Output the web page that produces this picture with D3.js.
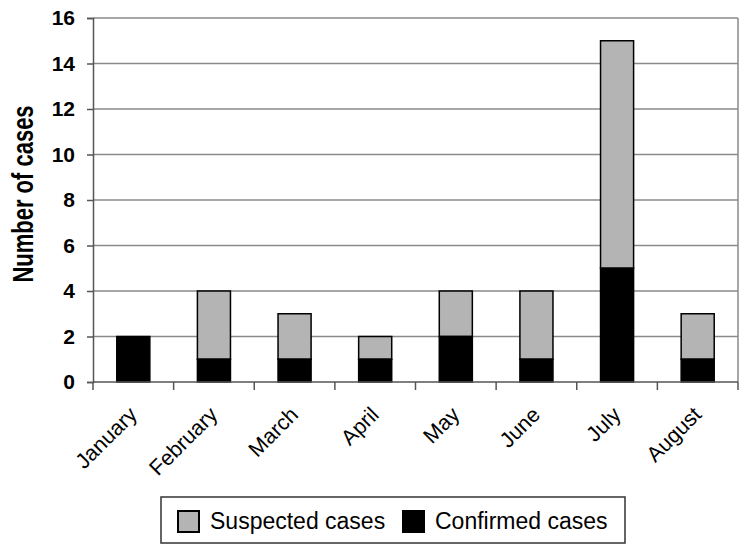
<!DOCTYPE html>
<html>
<head>
<meta charset="utf-8">
<script src="https://cdn.jsdelivr.net/npm/d3@7"></script>
<style>
  body { margin: 0; background: #fff; }
  text { font-family: "Liberation Sans", Arial, sans-serif; }
</style>
</head>
<body>
<div id="chart"></div>
<script>
// Chart data
var months = ["January", "February", "March", "April", "May", "June", "July", "August"];
var confirmed = [2, 1, 1, 1, 2, 1, 5, 1];
var suspected = [0, 3, 2, 1, 2, 3, 10, 2];
var yTicks = [0, 2, 4, 6, 8, 10, 12, 14, 16];

var svgWidth = 749;
var svgHeight = 553;

var margin = { top: 18, right: 11, bottom: 171, left: 93 };
var width = svgWidth - margin.left - margin.right;
var height = svgHeight - margin.top - margin.bottom;

var svg = d3.select("#chart")
  .append("svg")
  .attr("width", svgWidth)
  .attr("height", svgHeight);

var chartGroup = svg.append("g")
  .attr("transform", `translate(${margin.left}, ${margin.top})`);

// Scales
var xScale = d3.scaleBand()
  .domain(months)
  .range([0, width])
  .paddingInner(0.59)
  .paddingOuter(0.295);

var xBand = d3.scaleBand().domain(months).range([0, width]);

var yScale = d3.scaleLinear()
  .domain([0, 16])
  .range([height, 0]);

// Gridlines
chartGroup.selectAll(".grid")
  .data(yTicks.slice(1))
  .enter()
  .append("line")
  .attr("x1", 0)
  .attr("x2", width)
  .attr("y1", d => yScale(d))
  .attr("y2", d => yScale(d))
  .attr("stroke", "#8a8a8a")
  .attr("stroke-width", 1.5);

// Plot frame right side
chartGroup.append("line")
  .attr("x1", width).attr("x2", width)
  .attr("y1", 0).attr("y2", height)
  .attr("stroke", "#8a8a8a")
  .attr("stroke-width", 1.5);

// Stacked data
var stacked = months.map(function(m, i) {
  return { month: m, confirmed: confirmed[i], suspected: suspected[i] };
});

// Suspected (top) segments
chartGroup.selectAll(".suspected")
  .data(stacked.filter(d => d.suspected > 0))
  .enter()
  .append("rect")
  .attr("x", d => xScale(d.month))
  .attr("width", xScale.bandwidth())
  .attr("y", d => yScale(d.confirmed + d.suspected))
  .attr("height", d => yScale(d.confirmed) - yScale(d.confirmed + d.suspected))
  .attr("fill", "#b4b4b4")
  .attr("stroke", "#000")
  .attr("stroke-width", 1.5);

// Confirmed (bottom) segments
chartGroup.selectAll(".confirmed")
  .data(stacked)
  .enter()
  .append("rect")
  .attr("x", d => xScale(d.month))
  .attr("width", xScale.bandwidth())
  .attr("y", d => yScale(d.confirmed))
  .attr("height", d => yScale(0) - yScale(d.confirmed))
  .attr("fill", "#000")
  .attr("stroke", "#000")
  .attr("stroke-width", 1.5);

// Y axis
var leftAxis = d3.axisLeft(yScale)
  .tickValues(yTicks)
  .tickSize(6)
  .tickPadding(12);

var yAxis = chartGroup.append("g")
  .call(leftAxis);
yAxis.select(".domain").attr("stroke", "#555").attr("stroke-width", 1.5);
yAxis.selectAll(".tick line").attr("stroke", "#555").attr("stroke-width", 1.5);
yAxis.selectAll(".tick text")
  .attr("font-size", "21px")
  .attr("font-weight", "bold")
  .attr("fill", "#000")
  .style("font-family", "Liberation Sans, Arial, sans-serif");

// X axis (ticks at category boundaries)
var xAxis = chartGroup.append("g")
  .attr("transform", `translate(0, ${height})`);

xAxis.append("line")
  .attr("x1", 0).attr("x2", width)
  .attr("stroke", "#555")
  .attr("stroke-width", 1.5);

xAxis.selectAll(".xtick")
  .data(months.concat(["end"]))
  .enter()
  .append("line")
  .attr("x1", (d, i) => i * xBand.bandwidth())
  .attr("x2", (d, i) => i * xBand.bandwidth())
  .attr("y1", 0)
  .attr("y2", 8)
  .attr("stroke", "#555")
  .attr("stroke-width", 1.5);

xAxis.selectAll(".xlabel")
  .data(months)
  .enter()
  .append("text")
  .attr("transform", d => `translate(${xBand(d) + xBand.bandwidth() / 2 + 5}, 34) rotate(-45)`)
  .attr("text-anchor", "end")
  .attr("font-size", "21.5px")
  .attr("fill", "#000")
  .text(d => d);

// Y axis title
svg.append("text")
  .attr("transform", `translate(33, ${margin.top + 176}) rotate(-90) scale(1, 1.3)`)
  .attr("text-anchor", "middle")
  .attr("font-size", "22px")
  .attr("font-weight", "bold")
  .text("Number of cases");

// Legend
var legend = svg.append("g")
  .attr("transform", "translate(161, 497)");

legend.append("rect")
  .attr("width", 464)
  .attr("height", 46)
  .attr("fill", "#fff")
  .attr("stroke", "#333")
  .attr("stroke-width", 1.5);

var legendItems = [
  { label: "Suspected cases", color: "#b4b4b4", x: 17 },
  { label: "Confirmed cases", color: "#000", x: 242 }
];

var items = legend.selectAll(".item")
  .data(legendItems)
  .enter()
  .append("g")
  .attr("transform", d => `translate(${d.x}, 0)`);

items.append("rect")
  .attr("x", 0)
  .attr("y", 14)
  .attr("width", 21)
  .attr("height", 21)
  .attr("fill", d => d.color)
  .attr("stroke", "#000")
  .attr("stroke-width", 2);

items.append("text")
  .attr("x", 32)
  .attr("y", 32)
  .attr("font-size", "23px")
  .attr("fill", "#000")
  .text(d => d.label);
</script>
</body>
</html>
